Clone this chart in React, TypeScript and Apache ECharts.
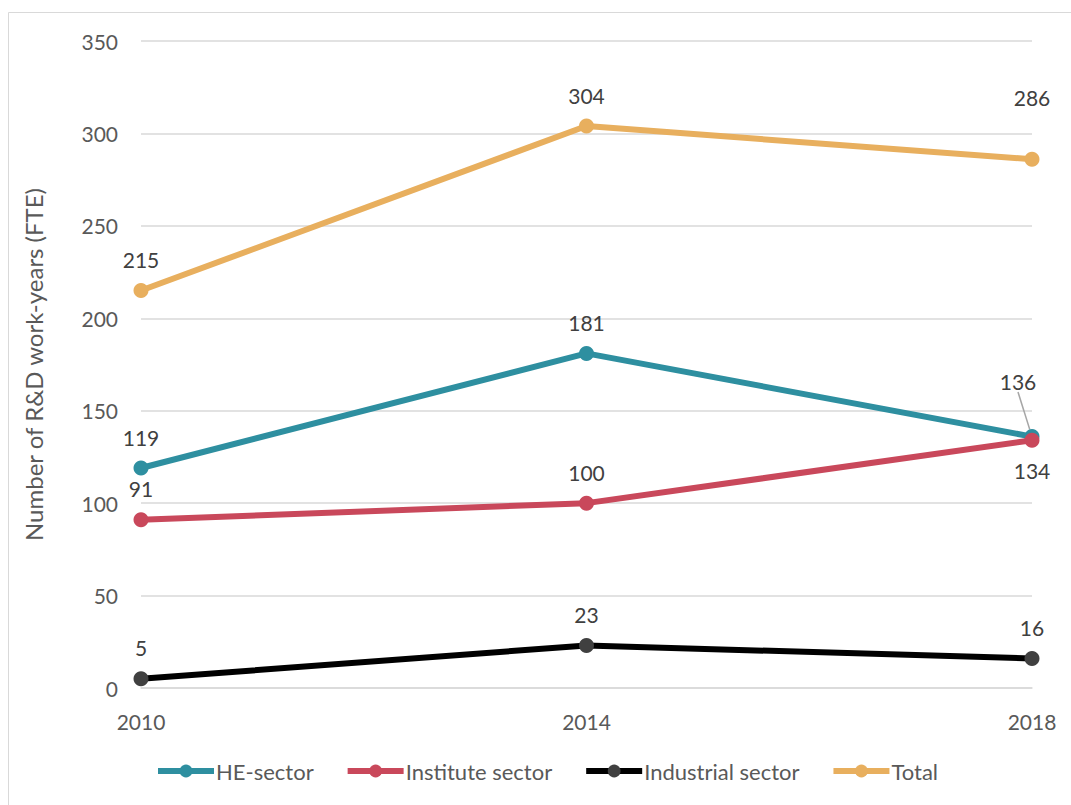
import React, { useEffect, useRef } from "react";
import * as echarts from "echarts";

const years = ["2010", "2014", "2018"];
const heSector = [119, 181, 136];
const instituteSector = [91, 100, 134];
const industrialSector = [5, 23, 16];
const total = [215, 304, 286];

const FONT = "Lato, 'Open Sans', sans-serif";
const TXT = "#595959";

export default function App() {
  const ref = useRef<HTMLDivElement>(null);
  useEffect(() => {
    const chart = echarts.init(ref.current!, null, { renderer: "svg" });
    const lbl = (extra: any = {}) => ({
      show: true,
      position: "top",
      distance: 13,
      color: "#404040",
      fontSize: 21,
      fontFamily: FONT,
      ...extra,
    });
    const mk = (name: string, data: any[], color: string, symbolColor: string, extra: any = {}) => ({
      name,
      type: "line",
      data,
      symbol: "circle",
      symbolSize: 15,
      lineStyle: { color, width: 6 },
      itemStyle: { color: symbolColor },
      label: lbl(),
      labelLine: { show: false },
      ...extra,
    });
    chart.setOption({
      animation: false,
      textStyle: { fontFamily: FONT },
      graphic: [
        {
          type: "rect",
          shape: { x: 8.5, y: 12.5, width: 1100, height: 900 },
          style: { fill: "none", stroke: "#d9d9d9", lineWidth: 1 },
          silent: true,
        },
      ],
      grid: { left: 141, right: 39, top: 41, bottom: 117 },
      legend: {
        bottom: 18,
        left: 150,
        itemWidth: 56,
        itemHeight: 16,
        itemGap: 31,
        lineStyle: { width: 6 },
        textStyle: { color: TXT, fontSize: 22, fontFamily: FONT, padding: [0, 0, 0, -3] },
        data: ["HE-sector", "Institute sector", "Industrial sector", "Total"],
      },
      xAxis: {
        type: "category",
        data: years,
        boundaryGap: false,
        axisLine: { lineStyle: { color: "#d9d9d9", width: 1.5 } },
        axisTick: { show: false },
        axisLabel: { color: TXT, fontSize: 21, fontFamily: FONT, margin: 23 },
      },
      yAxis: {
        type: "value",
        min: 0,
        max: 350,
        interval: 50,
        name: "Number of R&D work-years (FTE)",
        nameLocation: "middle",
        nameGap: 96,
        nameTextStyle: { color: TXT, fontSize: 24, fontFamily: FONT },
        axisLine: { show: false },
        axisTick: { show: false },
        axisLabel: { color: TXT, fontSize: 21, fontFamily: FONT, margin: 23 },
        splitLine: { lineStyle: { color: "#d9d9d9", width: 1.5 } },
      },
      series: [
        mk(
          "HE-sector",
          heSector.map((v, i) =>
            i === 2
              ? { value: v, labelLine: { show: true, lineStyle: { color: "#a6a6a6", width: 1.5 } } }
              : v
          ),
          "#2E8FA0",
          "#2E8FA0",
          {
            labelLayout: (p: any) => (p.dataIndex === 2 ? { dx: -14, dy: -24 } : {}),
            z: 3,
          }
        ),
        mk(
          "Institute sector",
          instituteSector.map((v, i) =>
            i === 2 ? { value: v, label: { position: "bottom", distance: 12 } } : v
          ),
          "#C9485B",
          "#C9485B",
          { z: 4 }
        ),
        mk("Industrial sector", industrialSector, "#000000", "#404040", { z: 5 }),
        mk(
          "Total",
          total.map((v, i) => (i === 2 ? { value: v, label: { offset: [0, -31] } } : v)),
          "#E8AF5E",
          "#E8AF5E",
          { z: 2 }
        ),
      ],
    });
    return () => chart.dispose();
  }, []);
  return (
    <div
      ref={ref}
      style={{ position: "absolute", left: 0, top: 0, width: 1071, height: 805 }}
    />
  );
}
